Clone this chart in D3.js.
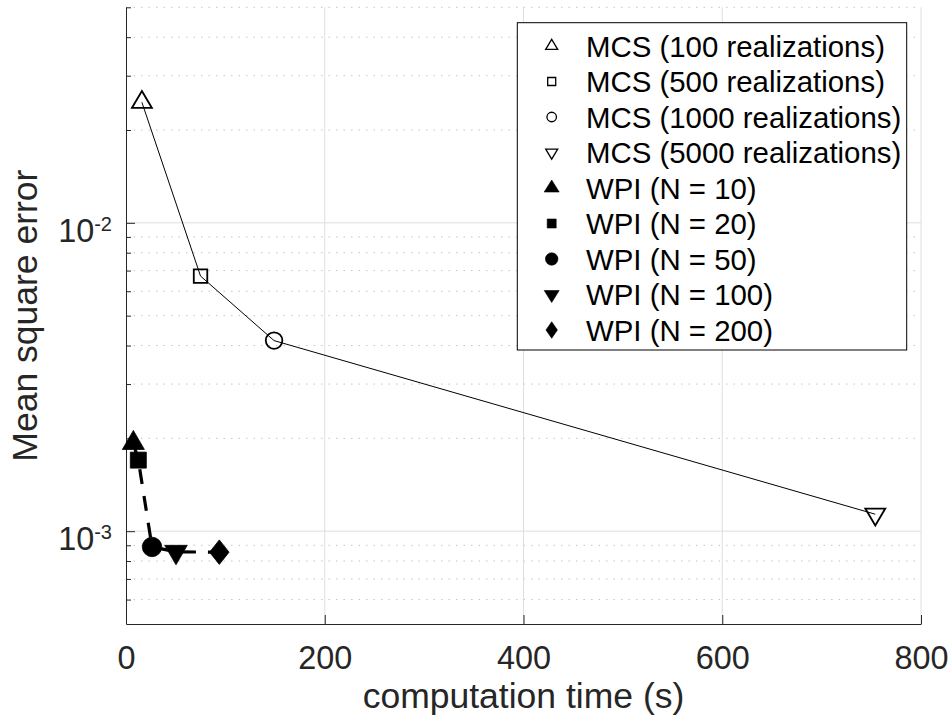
<!DOCTYPE html>
<html>
<head>
<meta charset="utf-8">
<script src="https://cdn.jsdelivr.net/npm/d3@7"></script>
<style>
  html, body { margin: 0; padding: 0; background: #fff; }
  svg { display: block; font-family: "Liberation Sans", Arial, Helvetica, sans-serif; }
</style>
</head>
<body>
<svg id="chart" width="951" height="721"></svg>
<script>
// Monte Carlo simulation runs (open markers, solid line)
const mcsLabels = ["MCS (100 realizations)", "MCS (500 realizations)", "MCS (1000 realizations)", "MCS (5000 realizations)"];
const mcsTime = [16, 75, 149, 754];
const mcsError = [0.0246, 0.00672, 0.00415, 0.001135];

// WPI runs (filled markers, dashed line)
const wpiLabels = ["WPI (N = 10)", "WPI (N = 20)", "WPI (N = 50)", "WPI (N = 100)", "WPI (N = 200)"];
const wpiTime = [7.4, 12.4, 26.2, 50.3, 93.9];
const wpiError = [0.00193, 0.0017, 0.000889, 0.000857, 0.000855];

// Axis ticks
const xTicks = [0, 200, 400, 600, 800];
const yMajorTicks = [1e-3, 1e-2];
const yMinorTicks = [6e-4, 7e-4, 8e-4, 9e-4, 2e-3, 3e-3, 4e-3, 5e-3, 6e-3, 7e-3, 8e-3, 9e-3, 2e-2, 3e-2, 4e-2, 5e-2];

const svg = d3.select("#chart");
const L = 126, R = 921, T = 7.3, B = 624;
const axisColor = "#262626";

const x = d3.scaleLinear().domain([0, 800]).range([L, R]);
const y = d3.scaleLog().domain([5e-4, 5e-2]).range([B, T]);

// Grid lines
const grid = svg.append("g");
grid.selectAll("line.minor").data(yMinorTicks).join("line")
  .attr("x1", L).attr("x2", R)
  .attr("y1", d => y(d)).attr("y2", d => y(d))
  .attr("stroke", "#c4c4c4").attr("stroke-width", 1)
  .attr("stroke-dasharray", "1.5,6");
grid.selectAll("line.ymaj").data(yMajorTicks).join("line")
  .attr("x1", L).attr("x2", R)
  .attr("y1", d => y(d)).attr("y2", d => y(d))
  .attr("stroke", "#dedede").attr("stroke-width", 1);
grid.selectAll("line.xmaj").data(xTicks.slice(1)).join("line")
  .attr("x1", d => x(d)).attr("x2", d => x(d))
  .attr("y1", T).attr("y2", B)
  .attr("stroke", "#dedede").attr("stroke-width", 1);

// Axes with inward ticks
const xAxis = svg.append("g").attr("transform", `translate(0,${B})`)
  .call(d3.axisBottom(x).tickValues(xTicks).tickSizeInner(-9).tickSizeOuter(0).tickPadding(21.5).tickFormat(d3.format("d")));
xAxis.select(".domain").attr("stroke", axisColor);
xAxis.selectAll(".tick line").attr("stroke", axisColor);
xAxis.selectAll(".tick text").attr("fill", axisColor).attr("font-size", 32.4)
  .attr("font-family", "'Liberation Sans', Arial, Helvetica, sans-serif");

const yAxis = svg.append("g").attr("transform", `translate(${L},0)`)
  .call(d3.axisLeft(y).tickValues(yMajorTicks).tickSizeInner(-9).tickSizeOuter(0).tickFormat(""));
yAxis.select(".domain").attr("stroke", axisColor);
yAxis.selectAll(".tick line").attr("stroke", axisColor);

const yMinorAxis = svg.append("g").attr("transform", `translate(${L},0)`)
  .call(d3.axisLeft(y).tickValues(yMinorTicks).tickSizeInner(-5).tickSizeOuter(0).tickFormat(""));
yMinorAxis.select(".domain").remove();
yMinorAxis.selectAll(".tick line").attr("stroke", axisColor);

// Power-of-ten labels on the log axis
const yLab = svg.append("g").attr("fill", axisColor);
yMajorTicks.forEach(v => {
  const t = yLab.append("text")
    .attr("x", 112).attr("y", y(v) + 19)
    .attr("text-anchor", "end").attr("font-size", 32.4);
  t.append("tspan").text("10");
  t.append("tspan").attr("dy", -11).attr("font-size", 20).text(String(Math.round(Math.log10(v))));
});

// Axis titles
svg.append("text").attr("x", (L + R) / 2).attr("y", 708)
  .attr("text-anchor", "middle").attr("font-size", 35.5).attr("fill", axisColor)
  .text("computation time (s)");
svg.append("text").attr("transform", `translate(37,${(T + B) / 2}) rotate(-90)`)
  .attr("text-anchor", "middle").attr("font-size", 35.5).attr("fill", axisColor)
  .text("Mean square error");

// Marker shapes (centred on the data point; triangles on their centroid)
function markerPath(shape, w, h) {
  h = h || w;
  switch (shape) {
    case "up": return `M0,${-2 * h / 3}L${w / 2},${h / 3}L${-w / 2},${h / 3}Z`;
    case "down": return `M0,${2 * h / 3}L${w / 2},${-h / 3}L${-w / 2},${-h / 3}Z`;
    case "square": return `M${-w / 2},${-w / 2}h${w}v${w}h${-w}Z`;
    case "circle": return d3.arc()({ innerRadius: 0, outerRadius: w / 2, startAngle: 0, endAngle: 2 * Math.PI });
    case "diamond": return `M0,${-h / 2}L${w / 2},0L0,${h / 2}L${-w / 2},0Z`;
  }
}
const mcsShapes = [["up", 20, 17], ["square", 13.5], ["circle", 16.6], ["down", 20, 17]];
const wpiShapes = [["up", 22, 19], ["square", 16], ["circle", 19.5], ["down", 22.5, 19.5], ["diamond", 19.5, 24.5]];
const mcsLegendShapes = [["up", 12, 10], ["square", 8], ["circle", 9.5], ["down", 12, 10]];
const wpiLegendShapes = [["up", 15, 12], ["square", 9], ["circle", 12.5], ["down", 15, 12], ["diamond", 11.5, 16.5]];

const line = d3.line().x(d => x(d[0])).y(d => y(d[1]));

// MCS series
svg.append("path").datum(d3.zip(mcsTime, mcsError))
  .attr("d", line).attr("fill", "none").attr("stroke", "#000").attr("stroke-width", 1);
svg.append("g").selectAll("path").data(d3.zip(mcsTime, mcsError, mcsShapes)).join("path")
  .attr("transform", d => `translate(${x(d[0])},${y(d[1])})`)
  .attr("d", d => markerPath(...d[2]))
  .attr("fill", "none").attr("stroke", "#000").attr("stroke-width", 1.8);

// WPI series
svg.append("path").datum(d3.zip(wpiTime, wpiError))
  .attr("d", line).attr("fill", "none").attr("stroke", "#000").attr("stroke-width", 3.2)
  .attr("stroke-dasharray", "15,12");
svg.append("g").selectAll("path").data(d3.zip(wpiTime, wpiError, wpiShapes)).join("path")
  .attr("transform", d => `translate(${x(d[0])},${y(d[1])})`)
  .attr("d", d => markerPath(...d[2]))
  .attr("fill", "#000").attr("stroke", "#000").attr("stroke-width", 0.8);

// Legend
const legend = svg.append("g");
legend.append("rect").attr("x", 517.3).attr("y", 22.7).attr("width", 389.4).attr("height", 327.3)
  .attr("fill", "#fff").attr("stroke", "#000").attr("stroke-width", 1);
const legendItems = [
  ...mcsLabels.map((t, i) => ({ text: t, shape: mcsLegendShapes[i], filled: false })),
  ...wpiLabels.map((t, i) => ({ text: t, shape: wpiLegendShapes[i], filled: true }))
];
const rowY = i => 46 + i * 35.5;
legend.selectAll("path").data(legendItems).join("path")
  .attr("transform", (d, i) => `translate(551.7,${rowY(i)})`)
  .attr("d", d => markerPath(...d.shape))
  .attr("fill", d => d.filled ? "#000" : "none")
  .attr("stroke", "#000").attr("stroke-width", d => d.filled ? 0.6 : 1.3);
legend.selectAll("text").data(legendItems).join("text")
  .attr("x", 586).attr("y", (d, i) => rowY(i) + 10.5)
  .attr("font-size", 29.4).attr("fill", "#000")
  .text(d => d.text);
</script>
</body>
</html>
